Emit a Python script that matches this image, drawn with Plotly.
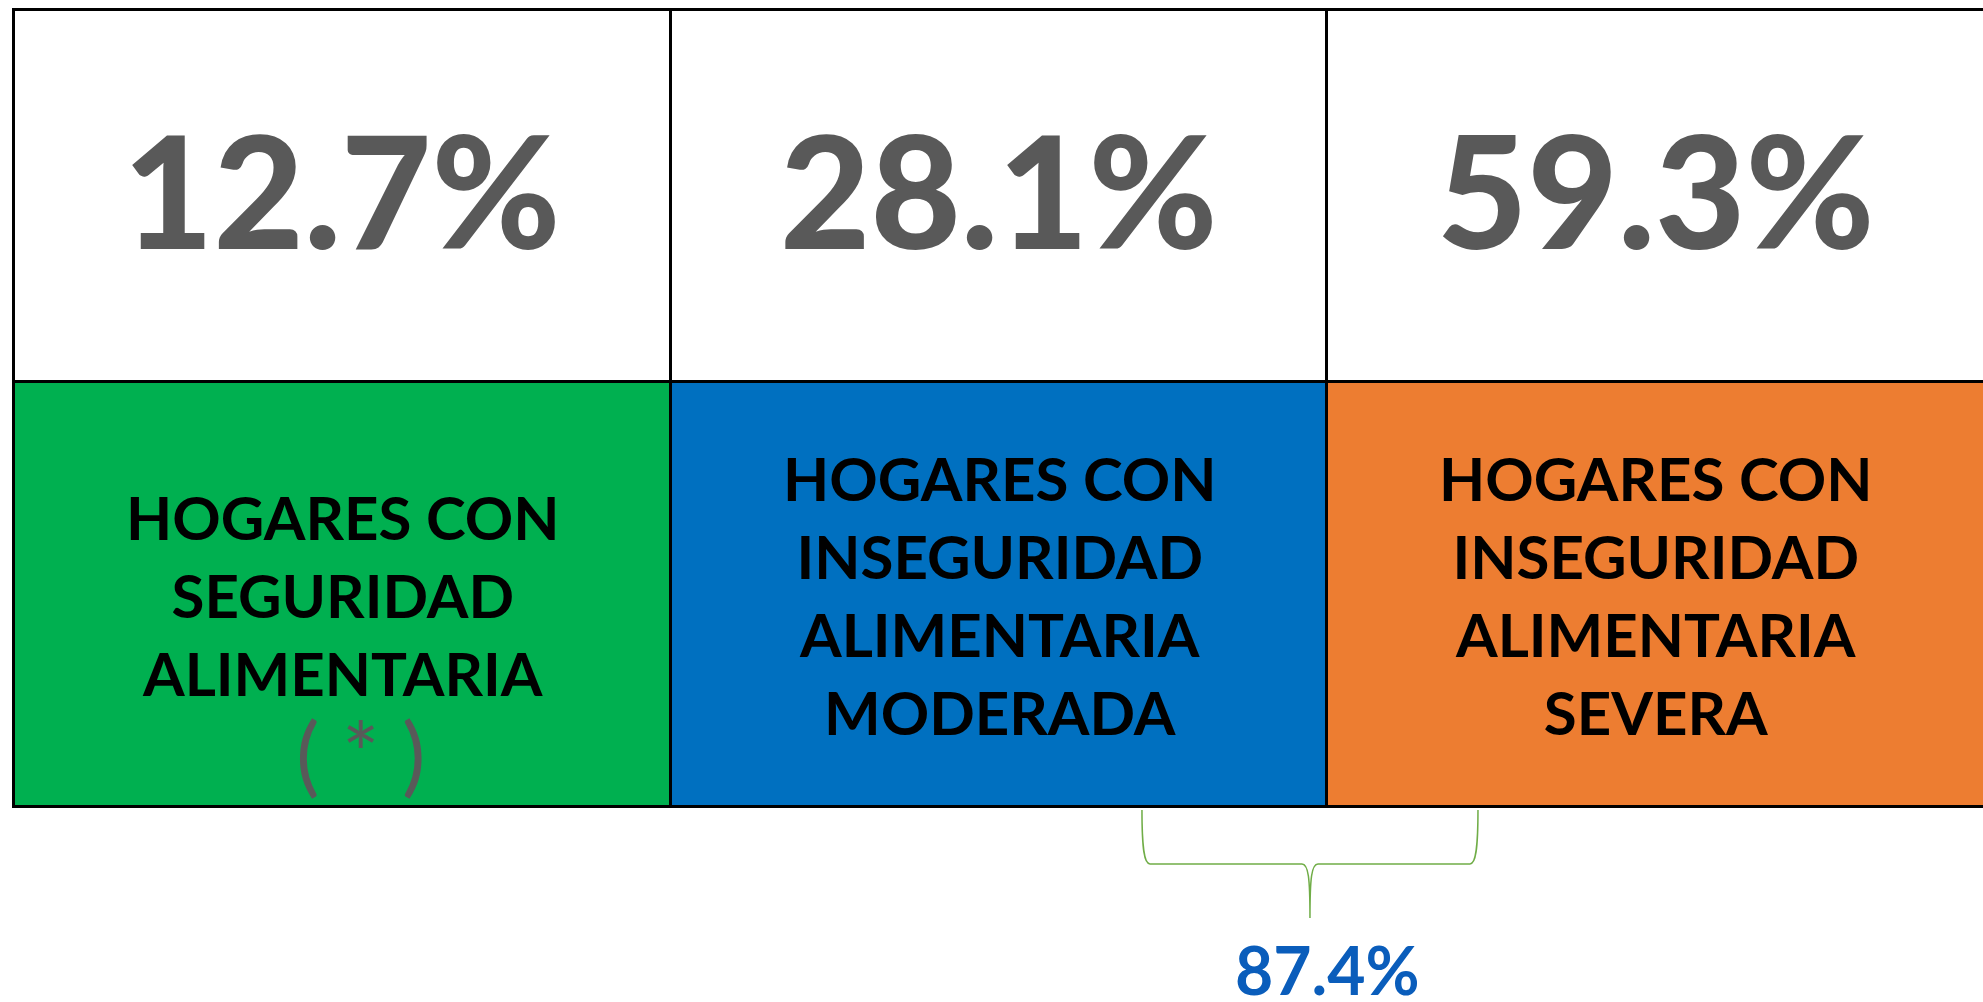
import plotly.graph_objects as go

# ---------------- data ----------------
categories = ["Seguridad alimentaria", "Inseguridad moderada", "Inseguridad severa"]
percentages = [12.7, 28.1, 59.3]
labels = [
    ["HOGARES CON", "SEGURIDAD", "ALIMENTARIA"],
    ["HOGARES CON", "INSEGURIDAD", "ALIMENTARIA", "MODERADA"],
    ["HOGARES CON", "INSEGURIDAD", "ALIMENTARIA", "SEVERA"],
]
footnote_mark = "( * )"
brace_members = [1, 2]          # categories grouped by the brace
fill_colors = ["#00B050", "#0070C0", "#ED7D31"]

# ---------------- layout constants ----------------
W, H = 1983, 1002
CELL_PX = 656.67                 # width of one category column in pixels
LEFT_PX = 14                     # left edge of the table
ROW_PX = 425                     # height of the label row (one y unit)
BOTTOM_PX = 807                  # y pixel of table bottom (from top)
LABEL_ROW_H = 1.0
VALUE_ROW_H = 372 / ROW_PX

n = len(categories)
x_pos = list(range(n))
x_min = -0.5 - LEFT_PX / CELL_PX
x_max = x_min + W / CELL_PX
y_min = -(H - BOTTOM_PX) / ROW_PX
y_max = BOTTOM_PX / ROW_PX
# last column runs off the page (its right border is not visible)
bar_widths = [1.0] * (n - 1) + [1.03]
bar_offsets = [-0.5] * n

GRAY = "#595959"
LINE = dict(color="black", width=3)

fig = go.Figure()

# label row (coloured cells)
fig.add_trace(go.Bar(
    x=x_pos, y=[LABEL_ROW_H] * n, base=0, width=bar_widths, offset=bar_offsets,
    marker=dict(color=fill_colors, line=LINE),
    hoverinfo="skip", showlegend=False,
))

# value row (white cells)
fig.add_trace(go.Bar(
    x=x_pos, y=[VALUE_ROW_H] * n, base=LABEL_ROW_H, width=bar_widths, offset=bar_offsets,
    marker=dict(color="white", line=LINE),
    hoverinfo="skip", showlegend=False,
))

annotations = []
# percentages in the white cells
for i, p in enumerate(percentages):
    annotations.append(dict(
        x=x_pos[i], y=LABEL_ROW_H + VALUE_ROW_H / 2, xref="x", yref="y",
        yshift=8, text=f"{p:.1f}%", showarrow=False,
        xanchor="center", yanchor="middle",
        font=dict(family="Lato", size=156, color=GRAY, weight=900),
    ))

for i, lines in enumerate(labels):
    annotations.append(dict(
        x=x_pos[i], y=LABEL_ROW_H / 2, xref="x", yref="y",
        text="<br>".join(lines), showarrow=False,
        xanchor="center", yanchor="middle", align="center",
        font=dict(family="Lato", size=60, color="black", weight=700),
    ))

# footnote mark in the first cell
annotations.append(dict(
    x=x_pos[0], y=0.13, xref="x", yref="y", xshift=18,
    text=footnote_mark, showarrow=False, xanchor="center", yanchor="middle",
    font=dict(family="Lato", size=88, color=GRAY),
))

# brace below the two insecurity categories
bx0 = brace_members[0] + 0.2177
bx1 = brace_members[-1] - 0.2706
bxm = (bx0 + bx1) / 2
ytop, ymid, ytip = -0.007, -0.134, -0.261
dx = 8 / CELL_PX
dy = 14 / ROW_PX
path = (
    f"M {bx0},{ytop} C {bx0},{ymid + dy} {bx0 + dx*0.3},{ymid} {bx0 + dx},{ymid} "
    f"L {bxm - dx},{ymid} C {bxm - dx*0.2},{ymid} {bxm},{ymid - dy} {bxm},{ytip} "
    f"M {bx1},{ytop} C {bx1},{ymid + dy} {bx1 - dx*0.3},{ymid} {bx1 - dx},{ymid} "
    f"L {bxm + dx},{ymid} C {bxm + dx*0.2},{ymid} {bxm},{ymid - dy} {bxm},{ytip}"
)
shapes = [dict(type="path", xref="x", yref="y", path=path,
               line=dict(color="#70AD47", width=1.5))]

total = sum(percentages[i] for i in brace_members)
annotations.append(dict(
    x=bxm, y=-0.39, xref="x", yref="y", xshift=18, yshift=3,
    text=f"{total:.1f}%", showarrow=False, xanchor="center", yanchor="middle",
    font=dict(family="Lato", size=66, color="#0A5DBB", weight=700),
))

fig.update_layout(
    width=W, height=H,
    margin=dict(l=0, r=0, t=0, b=0, pad=0),
    paper_bgcolor="white", plot_bgcolor="white",
    barmode="overlay", bargap=0,
    xaxis=dict(range=[x_min, x_max], visible=False, fixedrange=True),
    yaxis=dict(range=[y_min, y_max], visible=False, fixedrange=True),
    annotations=annotations, shapes=shapes,
)

fig.write_html(
    "out.html",
    config={"displayModeBar": False},
    post_script="document.body.style.margin='0px';document.body.style.overflow='hidden';",
)
